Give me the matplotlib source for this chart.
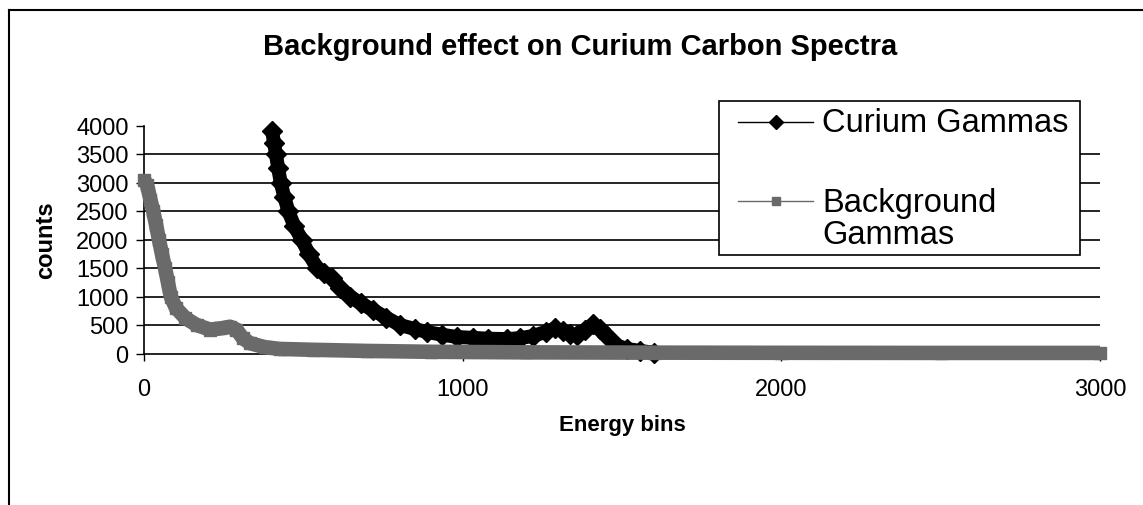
import numpy as np
import matplotlib.pyplot as plt
from matplotlib.lines import Line2D
from matplotlib.patches import Rectangle

plt.rcParams['font.family'] = ['Liberation Sans', 'DejaVu Sans']

# data (curium tail above ~1600 is hidden under the background band)
cur_x = [402, 408, 414, 421, 429, 440, 453, 472, 495, 518, 543, 565, 590, 615, 647,
         680, 720, 760, 803, 850, 888, 935, 982, 1033, 1080, 1139, 1180, 1221, 1260,
         1290, 1315, 1337, 1359, 1385, 1409, 1430, 1453, 1484, 1516, 1558, 1600]
cur_y = [3900, 3700, 3500, 3250, 3000, 2750, 2500, 2230, 2000, 1740, 1500, 1420, 1330, 1150, 1000,
         880, 760, 630, 500, 430, 377, 330, 290, 275, 260, 254, 270, 307, 380,
         440, 390, 342, 320, 420, 510, 430, 300, 140, 80, 45, 15]

bg_x = [0, 10, 20, 29, 38, 47, 56, 66, 75, 84, 100, 130, 165, 207, 240, 270, 290,
        310, 333, 380, 427, 530, 700, 900, 1200, 1600, 2000, 2500, 3000]
bg_y = [3050, 2950, 2700, 2500, 2250, 2000, 1750, 1500, 1250, 1000, 800, 620, 500, 420,
        440, 470, 420, 270, 180, 110, 80, 65, 45, 30, 20, 15, 12, 10, 10]

series_names = ['Curium Gammas', 'Background\nGammas']
y_ticks = list(range(0, 4001, 500))
x_ticks = [0, 1000, 2000, 3000]

W, H = 1143, 506
fig = plt.figure(figsize=(W / 100, H / 100), dpi=100)


def fx(px):
    return px / W


def fy(py):
    return 1 - py / H


ax = fig.add_axes([fx(144), fy(354.5), fx(1100) - fx(144), fy(126.5) - fy(354.5)])

# grid lines (no line at the top value)
for v in y_ticks[1:-1]:
    ax.axhline(v, color='black', lw=1.2, zorder=1)

ax.plot(cur_x, cur_y, color='black', lw=10, marker='D', ms=10,
        solid_joinstyle='round', solid_capstyle='butt', zorder=3, clip_on=False)
ax.plot(bg_x, bg_y, color='#6a6a6a', lw=10.5, marker='s', ms=9,
        solid_joinstyle='round', solid_capstyle='butt', zorder=4, clip_on=False)

ax.set_xlim(0, 3000)
ax.set_ylim(0, 4000)
ax.set_xticks(x_ticks)
ax.set_yticks(y_ticks)
ax.tick_params(axis='y', direction='out', length=6, width=1, pad=5, labelsize=17)
ax.tick_params(axis='x', direction='out', length=5, width=1, pad=12.5, labelsize=17)
for side in ['top', 'right']:
    ax.spines[side].set_visible(False)
ax.spines['left'].set_linewidth(1.2)
ax.spines['bottom'].set_linewidth(1.2)

fig.text(fx(580), fy(47), 'Background effect on Curium Carbon Spectra',
         ha='center', va='center', fontsize=21, fontweight='bold')
fig.text(fx(46), fy(240), 'counts', rotation=90, ha='center', va='center',
         fontsize=17, fontweight='bold')
fig.text(fx(622), fy(426), 'Energy bins', ha='center', va='center',
         fontsize=16, fontweight='bold')

# legend box drawn by hand so the marker sits beside the first label line
fig.add_artist(Rectangle((fx(719), fy(256)), fx(1080) - fx(719), fy(102) - fy(256),
                         facecolor='white', edgecolor='black', lw=1.2,
                         transform=fig.transFigure, zorder=5))
legend_rows = [(123, 123, 'black', 'D', 7), (202, 219.5, '#6a6a6a', 's', 6)]
for name, (yh, yt, col, mk, ms) in zip(series_names, legend_rows):
    fig.add_artist(Line2D([fx(738), fx(813)], [fy(yh), fy(yh)], color=col, lw=1,
                          transform=fig.transFigure, zorder=6))
    fig.add_artist(Line2D([fx(776)], [fy(yh)], color=col, marker=mk, ms=ms,
                          transform=fig.transFigure, zorder=6))
    fig.text(fx(822), fy(yt), name, ha='left', va='center', fontsize=23.5,
             linespacing=1.05, zorder=7)

# outer chart frame (top and left edges visible in the scan)
fig.add_artist(Line2D([fx(9), fx(1143)], [fy(11), fy(11)], color='black', lw=1.5,
                      transform=fig.transFigure))
fig.add_artist(Line2D([fx(9), fx(9)], [fy(11), fy(506)], color='black', lw=1.5,
                      transform=fig.transFigure))

fig.savefig('out.png', dpi=100)
